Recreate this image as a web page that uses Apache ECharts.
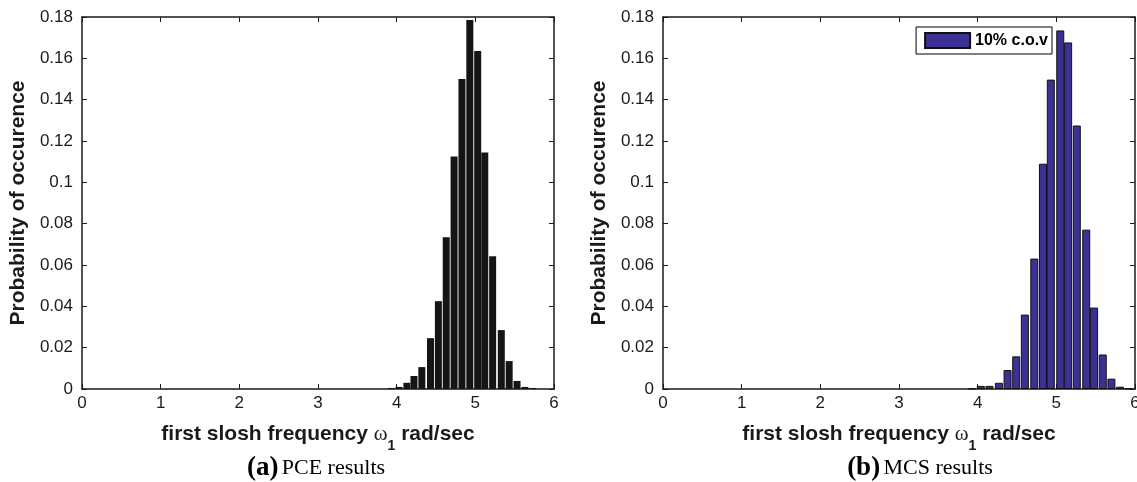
<!DOCTYPE html>
<html>
<head>
<meta charset="utf-8">
<script src="https://cdn.jsdelivr.net/npm/echarts@6/dist/echarts.min.js"></script>
<style>
  html, body { margin: 0; padding: 0; background: #fff; }
  #chart { width: 1137px; height: 482px; }
</style>
</head>
<body>
<div id="chart"></div>
<script>
// (a) PCE results: bin centres (rad/sec) and probability of occurence
var pceFreq = [3.93, 4.03, 4.13, 4.22, 4.32, 4.43, 4.53, 4.63, 4.73, 4.83,
               4.93, 5.03, 5.12, 5.22, 5.33, 5.43, 5.53, 5.63, 5.73];
var pceProb = [0.0005, 0.001, 0.003, 0.0063, 0.0106, 0.0246, 0.0425, 0.0734, 0.1125, 0.150,
               0.1786, 0.1636, 0.1144, 0.0642, 0.0285, 0.0135, 0.0039, 0.001, 0.0005];

// (b) MCS results
var mcsFreq = [3.93, 4.04, 4.15, 4.27, 4.38, 4.49, 4.60, 4.72, 4.83, 4.93,
               5.05, 5.15, 5.26, 5.38, 5.48, 5.59, 5.70, 5.81, 5.92];
var mcsProb = [0.0003, 0.0015, 0.0015, 0.003, 0.0092, 0.0158, 0.036, 0.0631, 0.109, 0.1497,
               0.1735, 0.1677, 0.1275, 0.0771, 0.0394, 0.0167, 0.005, 0.0011, 0.0003];

var legendName = '10% c.o.v';
var xTitle = 'first slosh frequency {w|ω}{s|1} rad/sec';
var yTitle = 'Probability of occurence';
var captions = [['(a)', 'PCE results'], ['(b)', 'MCS results']];

(function() {
  var ink = '#1a1a1a';
  var sans = '"Liberation Sans", Arial, Helvetica, sans-serif';
  var serif = '"Liberation Serif", "Times New Roman", serif';

  function pairs(xs, ys) {
    return xs.map(function(x, i) { return [x, ys[i]]; });
  }

  var line = { onZero: false, lineStyle: { color: ink, width: 1.5 } };
  var tick = { inside: true, length: 5, lineStyle: { color: ink, width: 1 } };

  function xAxes(gi) {
    return [
      {
        gridIndex: gi, type: 'value', min: 0, max: 6, interval: 1, position: 'bottom',
        name: xTitle, nameLocation: 'middle', nameGap: 26,
        nameTextStyle: {
          color: ink, fontFamily: sans, fontSize: 21, fontWeight: 'bold',
          rich: {
            w: { fontFamily: serif, fontSize: 21, fontWeight: 'normal', color: ink },
            s: { fontFamily: sans, fontSize: 14, fontWeight: 'bold', color: ink, padding: [24, 0, 0, 0] }
          }
        },
        axisLine: line, axisTick: tick,
        axisLabel: { color: ink, fontFamily: sans, fontSize: 17, margin: 6 },
        splitLine: { show: false }
      },
      {
        gridIndex: gi, type: 'value', min: 0, max: 6, interval: 1, position: 'top',
        axisLine: line, axisTick: tick, axisLabel: { show: false }, splitLine: { show: false }
      }
    ];
  }

  function yAxes(gi) {
    return [
      {
        gridIndex: gi, type: 'value', min: 0, max: 0.18, interval: 0.02, position: 'left',
        name: yTitle, nameLocation: 'middle', nameGap: 53,
        nameTextStyle: { color: ink, fontFamily: sans, fontSize: 21, fontWeight: 'bold' },
        axisLine: line, axisTick: tick,
        axisLabel: { color: ink, fontFamily: sans, fontSize: 17, margin: 9 },
        splitLine: { show: false }
      },
      {
        gridIndex: gi, type: 'value', min: 0, max: 0.18, interval: 0.02, position: 'right',
        axisLine: line, axisTick: tick, axisLabel: { show: false }, splitLine: { show: false }
      }
    ];
  }

  function caption(x, c) {
    return {
      type: 'text', x: x, y: 468,
      style: {
        text: '{b|' + c[0] + '} {r|' + c[1] + '}',
        align: 'center', verticalAlign: 'middle',
        rich: {
          b: { fontFamily: serif, fontSize: 27, fontWeight: 'bold', fill: '#000' },
          r: { fontFamily: serif, fontSize: 22, fill: '#000' }
        }
      }
    };
  }

  var chart = echarts.init(document.getElementById('chart'), null, { renderer: 'canvas' });
  chart.setOption({
    animation: false,
    backgroundColor: '#fff',
    grid: [
      { left: 82, top: 17, width: 472, height: 372, outerBoundsMode: 'none' },
      { left: 663, top: 17, width: 472, height: 372, outerBoundsMode: 'none' }
    ],
    xAxis: xAxes(0).concat(xAxes(1)),
    yAxis: yAxes(0).concat(yAxes(1)),
    legend: {
      data: [legendName],
      right: 85, top: 27,
      icon: 'rect',
      itemWidth: 45, itemHeight: 15,
      padding: [5, 4, 5, 8],
      backgroundColor: '#fff',
      borderColor: '#000', borderWidth: 1, borderRadius: 0,
      textStyle: { color: '#000', fontFamily: sans, fontSize: 16, fontWeight: 'bold', lineHeight: 15 }
    },
    series: [
      {
        name: 'PCE',
        type: 'bar',
        xAxisIndex: 0, yAxisIndex: 0,
        data: pairs(pceFreq, pceProb),
        barWidth: 7,
        itemStyle: { color: '#151515' }
      },
      {
        name: legendName,
        type: 'bar',
        xAxisIndex: 2, yAxisIndex: 2,
        data: pairs(mcsFreq, mcsProb),
        barWidth: 8,
        itemStyle: { color: '#3b3194', borderColor: '#111', borderWidth: 1 }
      }
    ],
    graphic: [caption(316, captions[0]), caption(920, captions[1])]
  });
})();
</script>
</body>
</html>
